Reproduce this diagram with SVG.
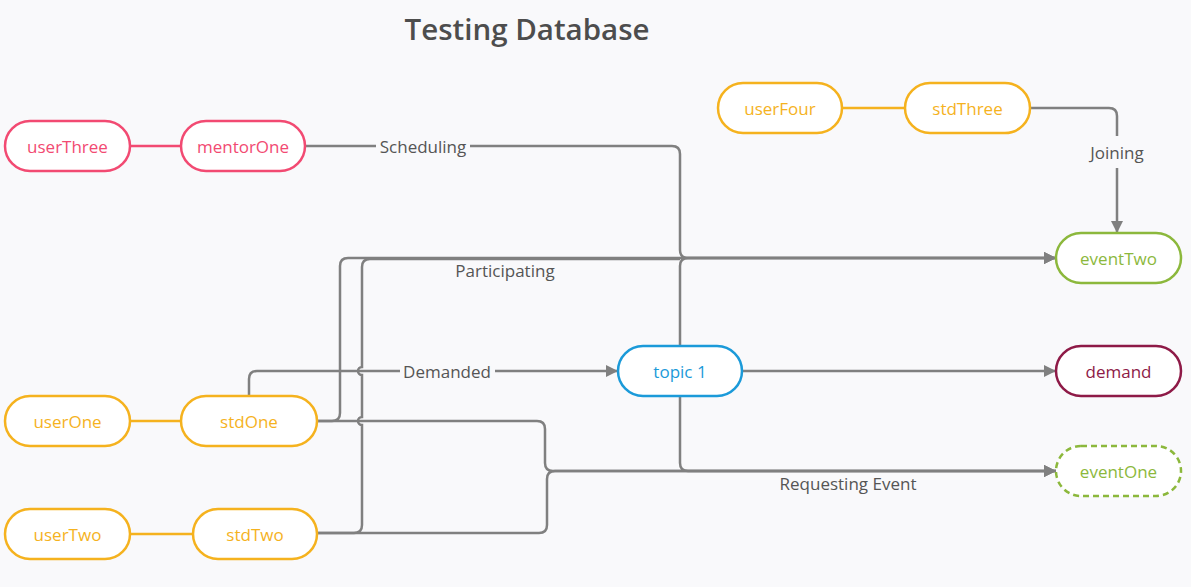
<svg xmlns="http://www.w3.org/2000/svg" width="1191" height="587" viewBox="0 0 1191 587">
<defs>
<style>
.bg{fill:#f9f9fb}
.n rect{fill:#ffffff;stroke-width:2.5}
.n text{font-family:"Open Sans","Noto Sans",sans-serif;font-size:17px;text-anchor:middle;dominant-baseline:central}
.pink rect{stroke:#f24a72}.pink text{fill:#f24a72}
.org rect{stroke:#f5b21e}.org text{fill:#f5b21e}
.grn rect{stroke:#8cb83c}.grn text{fill:#8cb83c}
.mar rect{stroke:#8e1a47}.mar text{fill:#8e1a47}
.blu rect{stroke:#1b9ad9}.blu text{fill:#1b9ad9}
.dash rect{stroke-dasharray:6 4}
.c{fill:none;stroke:#808080;stroke-width:2.5}
.lo{fill:none;stroke:#f5b21e;stroke-width:2.5}
.lp{fill:none;stroke:#f24a72;stroke-width:2.5}
.lbl{font-family:"Open Sans","Noto Sans",sans-serif;font-size:17px;fill:#555555;text-anchor:middle;dominant-baseline:central}
.title{font-family:"Open Sans","Noto Sans",sans-serif;font-size:29.5px;font-weight:600;fill:#4d4d4d;text-anchor:middle}
</style>
<marker id="arr" viewBox="0 0 12 12" refX="12" refY="6" markerWidth="12" markerHeight="12" markerUnits="userSpaceOnUse" orient="auto">
<path d="M0,0 L12,6 L0,12 z" fill="#808080"/>
</marker>
</defs>
<rect class="bg" x="0" y="0" width="1191" height="587"/>
<text class="title" x="527" y="40">Testing Database</text>
<g id="connectors">
<path class="lp" d="M130,146 H181"/>
<path class="lo" d="M842,108 H905"/>
<path class="lo" d="M130,421 H181"/>
<path class="lo" d="M130,534 H193"/>
<path class="c" d="M305,146 H376 M470,146 H672 Q680,146 680,154 V250 Q680,258 688,258 H1056" marker-end="url(#arr)"/>
<path class="c" d="M680,346 V266 Q680,258 688,258 H1056" marker-end="url(#arr)"/>
<path class="c" d="M317,421 H332 Q340,421 340,413 V266 Q340,258 348,258 H1056" marker-end="url(#arr)"/>
<path class="c" d="M317,533 H354 Q362,533 362,525 V425 A4,4 0 0 1 362,417 V375 A4,4 0 0 1 362,367 V267 Q362,259 370,259 H680"/>
<path class="c" d="M1030,108 H1109 Q1117,108 1117,116 V136 M1117,168 V233" marker-end="url(#arr)"/>
<path class="c" d="M249,396 V379 Q249,371 257,371 H400 M495,371 H618" marker-end="url(#arr)"/>
<path class="c" d="M742,371 H1056" marker-end="url(#arr)"/>
<path class="c" d="M680,396 V463 Q680,471 688,471 H1056" marker-end="url(#arr)"/>
<path class="c" d="M317,421 H537 Q545,421 545,429 V463 Q545,471 553,471 H1056" marker-end="url(#arr)"/>
<path class="c" d="M317,533 H539 Q547,533 547,525 V479 Q547,471 555,471 H1056" marker-end="url(#arr)"/>
<text class="lbl" x="423" y="146">Scheduling</text>
<text class="lbl" x="1117" y="152">Joining</text>
<text class="lbl" x="505" y="270">Participating</text>
<text class="lbl" x="447" y="371">Demanded</text>
<text class="lbl" x="848" y="483">Requesting Event</text>
</g>
<g id="userThree" class="n pink"><rect x="5" y="121" width="125" height="50" rx="25"/><text x="67.5" y="146">userThree</text></g>
<g id="mentorOne" class="n pink"><rect x="181" y="121" width="124" height="50" rx="25"/><text x="243" y="146">mentorOne</text></g>
<g id="userFour" class="n org"><rect x="718" y="83" width="124" height="50" rx="25"/><text x="780" y="108">userFour</text></g>
<g id="stdThree" class="n org"><rect x="905" y="83" width="125" height="50" rx="25"/><text x="967.5" y="108">stdThree</text></g>
<g id="eventTwo" class="n grn"><rect x="1056" y="233" width="125" height="50" rx="25"/><text x="1118.5" y="258">eventTwo</text></g>
<g id="demand" class="n mar"><rect x="1056" y="346" width="125" height="50" rx="25"/><text x="1118.5" y="371">demand</text></g>
<g id="eventOne" class="n grn dash"><rect x="1056" y="446" width="125" height="50" rx="25"/><text x="1118.5" y="471">eventOne</text></g>
<g id="topic1" class="n blu"><rect x="618" y="346" width="124" height="50" rx="25"/><text x="680" y="371">topic 1</text></g>
<g id="userOne" class="n org"><rect x="5" y="396" width="125" height="50" rx="25"/><text x="67.5" y="421">userOne</text></g>
<g id="stdOne" class="n org"><rect x="181" y="396" width="136" height="50" rx="25"/><text x="249" y="421">stdOne</text></g>
<g id="userTwo" class="n org"><rect x="5" y="509" width="125" height="50" rx="25"/><text x="67.5" y="534">userTwo</text></g>
<g id="stdTwo" class="n org"><rect x="193" y="509" width="124" height="50" rx="25"/><text x="255" y="534">stdTwo</text></g>
</svg>
